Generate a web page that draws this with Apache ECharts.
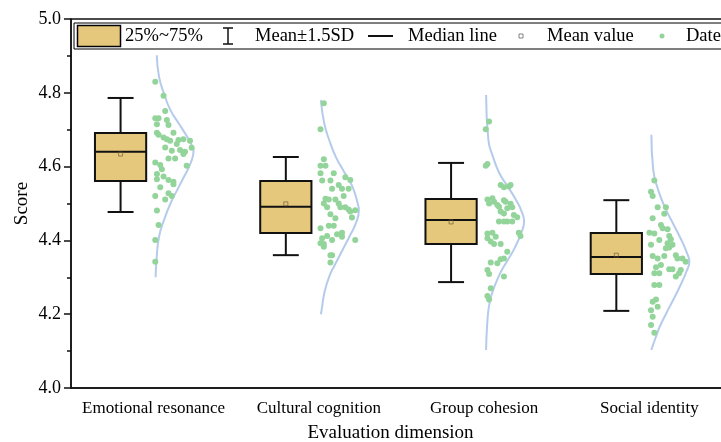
<!DOCTYPE html>
<html>
<head>
<meta charset="utf-8">
<title>Evaluation dimension</title>
<script src="https://cdn.jsdelivr.net/npm/echarts@6/dist/echarts.min.js"></script>
<style>
  html, body { margin: 0; padding: 0; background: #fff; }
  #main { width: 721px; height: 442px; }
</style>
</head>
<body>
<div id="main"></div>
<script>
// categories and box statistics
var categories = ['Emotional resonance', 'Cultural cognition', 'Group cohesion', 'Social identity']
var sdHigh = [4.786, 4.626, 4.610, 4.509]   // mean + 1.5SD
var q3 = [4.691, 4.561, 4.512, 4.420]
var median = [4.640, 4.491, 4.455, 4.355]
var q1 = [4.561, 4.420, 4.390, 4.309]
var sdLow = [4.477, 4.360, 4.287, 4.209]    // mean - 1.5SD
var mean = [4.634, 4.499, 4.450, 4.360]
var yTicks = [4.0, 4.2, 4.4, 4.6, 4.8, 5.0]

// raw points: [jitter (share of a category band), score]
var points1 = [[0.01, 4.830], [0.06, 4.792], [0.07, 4.751], [0.01, 4.731], [0.03, 4.731], [0.08, 4.726], [0.09, 4.713], [0.02, 4.715], [0.12, 4.692], [0.02, 4.692], [0.03, 4.686], [0.06, 4.679], [0.08, 4.674], [0.10, 4.670], [0.15, 4.672], [0.18, 4.674], [0.22, 4.670], [0.14, 4.661], [0.07, 4.652], [0.11, 4.643], [0.16, 4.645], [0.19, 4.640], [0.23, 4.651], [0.18, 4.634], [0.09, 4.622], [0.13, 4.622], [0.20, 4.602], [0.01, 4.611], [0.04, 4.604], [0.05, 4.593], [0.02, 4.580], [0.06, 4.573], [0.09, 4.564], [0.12, 4.559], [0.12, 4.552], [0.02, 4.566], [0.04, 4.544], [0.09, 4.528], [0.11, 4.520], [0.01, 4.520], [0.07, 4.511], [0.02, 4.481], [0.03, 4.442], [0.01, 4.401], [0.01, 4.342]]
var points2 = [[0.03, 4.772], [0.01, 4.701], [0.03, 4.620], [0.01, 4.602], [0.04, 4.602], [0.09, 4.582], [0.01, 4.582], [0.16, 4.571], [0.19, 4.564], [0.02, 4.562], [0.07, 4.562], [0.12, 4.550], [0.08, 4.540], [0.14, 4.540], [0.18, 4.540], [0.15, 4.520], [0.04, 4.513], [0.06, 4.511], [0.10, 4.511], [0.03, 4.500], [0.12, 4.500], [0.05, 4.490], [0.13, 4.490], [0.16, 4.490], [0.18, 4.484], [0.22, 4.482], [0.19, 4.478], [0.07, 4.471], [0.20, 4.462], [0.10, 4.460], [0.06, 4.440], [0.09, 4.440], [0.01, 4.433], [0.14, 4.421], [0.11, 4.417], [0.05, 4.412], [0.14, 4.410], [0.02, 4.406], [0.08, 4.401], [0.22, 4.401], [0.01, 4.392], [0.03, 4.390], [0.03, 4.383], [0.07, 4.360], [0.08, 4.360], [0.07, 4.340]]
var points3 = [[0.03, 4.722], [0.01, 4.701], [0.02, 4.607], [0.01, 4.602], [0.10, 4.550], [0.12, 4.544], [0.15, 4.546], [0.16, 4.550], [0.02, 4.511], [0.05, 4.514], [0.06, 4.505], [0.08, 4.496], [0.12, 4.509], [0.13, 4.505], [0.03, 4.500], [0.16, 4.499], [0.09, 4.491], [0.14, 4.487], [0.17, 4.490], [0.10, 4.478], [0.12, 4.473], [0.18, 4.469], [0.20, 4.463], [0.09, 4.451], [0.12, 4.451], [0.14, 4.451], [0.17, 4.451], [0.21, 4.421], [0.22, 4.412], [0.02, 4.419], [0.05, 4.421], [0.07, 4.410], [0.02, 4.406], [0.04, 4.397], [0.06, 4.390], [0.10, 4.390], [0.14, 4.369], [0.12, 4.351], [0.10, 4.349], [0.04, 4.340], [0.08, 4.338], [0.02, 4.320], [0.03, 4.309], [0.12, 4.302], [0.04, 4.270], [0.02, 4.249], [0.03, 4.240]]
var points4 = [[0.03, 4.562], [0.01, 4.532], [0.02, 4.520], [0.05, 4.490], [0.10, 4.490], [0.02, 4.460], [0.09, 4.472], [0.07, 4.442], [0.08, 4.433], [0.11, 4.430], [0.00, 4.421], [0.03, 4.419], [0.12, 4.412], [0.06, 4.401], [0.13, 4.403], [0.01, 4.388], [0.11, 4.392], [0.14, 4.388], [0.10, 4.379], [0.12, 4.381], [0.02, 4.358], [0.05, 4.351], [0.09, 4.358], [0.16, 4.360], [0.17, 4.351], [0.20, 4.351], [0.22, 4.342], [0.07, 4.333], [0.04, 4.327], [0.12, 4.322], [0.14, 4.322], [0.19, 4.320], [0.03, 4.311], [0.06, 4.311], [0.16, 4.302], [0.18, 4.311], [0.03, 4.279], [0.06, 4.279], [0.02, 4.234], [0.04, 4.240], [0.01, 4.211], [0.05, 4.220], [0.02, 4.193], [0.01, 4.171], [0.03, 4.150]]

// distribution curves: [score, relative density]
var curve1 = [[4.902, 0.03], [4.844, 0.09], [4.798, 0.22], [4.753, 0.39], [4.717, 0.61], [4.681, 0.83], [4.654, 0.97], [4.645, 1.00], [4.609, 0.92], [4.573, 0.75], [4.537, 0.57], [4.500, 0.39], [4.455, 0.22], [4.410, 0.09], [4.356, 0.03], [4.300, 0.00]]
var curve2 = [[4.780, 0.00], [4.717, 0.09], [4.672, 0.22], [4.627, 0.39], [4.586, 0.61], [4.546, 0.83], [4.500, 0.97], [4.482, 1.00], [4.446, 0.92], [4.410, 0.75], [4.374, 0.57], [4.338, 0.39], [4.302, 0.22], [4.257, 0.09], [4.211, 0.02], [4.200, 0.00]]
var curve3 = [[4.794, 0.00], [4.672, 0.06], [4.627, 0.18], [4.582, 0.35], [4.546, 0.57], [4.509, 0.79], [4.482, 0.92], [4.451, 1.00], [4.419, 0.92], [4.379, 0.75], [4.347, 0.57], [4.315, 0.39], [4.275, 0.22], [4.230, 0.09], [4.175, 0.03], [4.103, 0.00]]
var curve4 = [[4.686, 0.00], [4.591, 0.05], [4.537, 0.18], [4.491, 0.35], [4.446, 0.57], [4.401, 0.79], [4.365, 0.94], [4.342, 1.00], [4.315, 0.92], [4.275, 0.75], [4.238, 0.57], [4.202, 0.39], [4.166, 0.22], [4.130, 0.09], [4.103, 0.00]]

var allPoints = [points1, points2, points3, points4]
var allCurves = [curve1, curve2, curve3, curve4]

var boxColor = '#e6c87c'
var dotColor = '#93d49a'
var curveColor = '#b5cbec'
var font = '"Liberation Serif", "Times New Roman", serif'

// layout inside one category band
var boxShift = -0.2
var boxWidth = 0.31
var capWidth = 0.157
var curveBase = 0.012
var curveScale = 0.23

var chart = echarts.init(document.getElementById('main'))

var boxData = categories.map(function (c, i) {
  return [i + boxShift, sdLow[i], q1[i], median[i], q3[i], sdHigh[i]]
})

var dateData = []
allPoints.forEach(function (list, i) {
  list.forEach(function (p) {
    dateData.push([i + p[0], p[1]])
  })
})

var curveSeries = allCurves.map(function (list, i) {
  return {
    type: 'line',
    xAxisIndex: 1,
    smooth: true,
    showSymbol: false,
    silent: true,
    z: 1,
    lineStyle: { color: curveColor, width: 2 },
    data: list.map(function (p) { return [i + curveBase + p[1] * curveScale, p[0]] })
  }
})

function renderBox(params, api) {
  var x = api.value(0)
  var w = api.size([boxWidth, 0])[0]
  var top = api.coord([x, api.value(4)])
  var bottom = api.coord([x, api.value(2)])
  return {
    type: 'rect',
    shape: { x: top[0] - w / 2, y: top[1], width: w, height: bottom[1] - top[1] },
    style: { fill: boxColor, stroke: '#111', lineWidth: 2 }
  }
}

function renderWhisker(params, api) {
  var x = api.value(0)
  var cw = api.size([capWidth, 0])[0]
  var hi = api.coord([x, api.value(5)])
  var lo = api.coord([x, api.value(1)])
  var style = { stroke: '#111', lineWidth: 2 }
  return {
    type: 'group',
    children: [
      { type: 'line', shape: { x1: hi[0], y1: hi[1], x2: lo[0], y2: lo[1] }, style: style },
      { type: 'line', shape: { x1: hi[0] - cw / 2, y1: hi[1], x2: hi[0] + cw / 2, y2: hi[1] }, style: style },
      { type: 'line', shape: { x1: lo[0] - cw / 2, y1: lo[1], x2: lo[0] + cw / 2, y2: lo[1] }, style: style }
    ]
  }
}

function renderMedian(params, api) {
  var x = api.value(0)
  var w = api.size([boxWidth, 0])[0]
  var m = api.coord([x, api.value(3)])
  return {
    type: 'line',
    shape: { x1: m[0] - w / 2, y1: m[1], x2: m[0] + w / 2, y2: m[1] },
    style: { stroke: '#111', lineWidth: 2 }
  }
}

// hand drawn legend, as in the picture
var lx = 74, ly = 36
var legendFont = { fontFamily: font, fontSize: 18.5, fill: '#000', verticalAlign: 'middle' }
var legend = [
  { type: 'rect', shape: { x: lx, y: 23, width: 670, height: 26 }, style: { fill: '#fff', stroke: '#000', lineWidth: 1 } },
  { type: 'rect', shape: { x: 77.5, y: 25.5, width: 43, height: 21 }, style: { fill: boxColor, stroke: '#000', lineWidth: 1.5 } },
  { type: 'text', x: 125, y: ly, style: Object.assign({ text: '25%~75%' }, legendFont) },
  { type: 'line', shape: { x1: 228, y1: 28, x2: 228, y2: 44 }, style: { stroke: '#111', lineWidth: 1.5 } },
  { type: 'line', shape: { x1: 223, y1: 28, x2: 233, y2: 28 }, style: { stroke: '#111', lineWidth: 1.5 } },
  { type: 'line', shape: { x1: 223, y1: 44, x2: 233, y2: 44 }, style: { stroke: '#111', lineWidth: 1.5 } },
  { type: 'text', x: 255, y: ly, style: Object.assign({ text: 'Mean±1.5SD' }, legendFont) },
  { type: 'line', shape: { x1: 368, y1: ly, x2: 393, y2: ly }, style: { stroke: '#111', lineWidth: 2 } },
  { type: 'text', x: 408, y: ly, style: Object.assign({ text: 'Median line' }, legendFont) },
  { type: 'rect', shape: { x: 519, y: 34, width: 4, height: 4 }, style: { fill: '#fff', stroke: '#666', lineWidth: 0.8 } },
  { type: 'text', x: 547, y: ly, style: Object.assign({ text: 'Mean value' }, legendFont) },
  { type: 'circle', shape: { cx: 662, cy: ly, r: 2.5 }, style: { fill: dotColor } },
  { type: 'text', x: 686, y: ly, style: Object.assign({ text: 'Date' }, legendFont) }
]

chart.setOption({
  animation: false,
  backgroundColor: '#fff',
  textStyle: { fontFamily: font },
  graphic: { elements: [{ type: 'group', z: 100, children: legend }] },
  grid: {
    left: 71, right: -11, top: 19, bottom: 54,
    outerBoundsMode: 'none',
    show: true, borderColor: '#111', borderWidth: 1.5, backgroundColor: 'transparent'
  },
  xAxis: [
    {
      type: 'category',
      data: categories,
      name: 'Evaluation dimension',
      nameLocation: 'middle',
      nameGap: 36,
      nameTextStyle: { fontFamily: font, fontSize: 19, color: '#000', padding: [0, 22, 0, 0] },
      axisLine: { lineStyle: { color: '#111', width: 1.5 } },
      axisTick: { alignWithLabel: true, length: 6, lineStyle: { color: '#111', width: 1.5 } },
      axisLabel: { interval: 0, fontFamily: font, fontSize: 17, color: '#000', margin: 12 },
      splitLine: { show: false }
    },
    { type: 'value', min: -0.5, max: 3.5, show: false }
  ],
  yAxis: {
    type: 'value',
    min: yTicks[0],
    max: yTicks[yTicks.length - 1],
    interval: 0.2,
    name: 'Score',
    nameLocation: 'middle',
    nameGap: 49,
    nameMoveOverlap: false,
    nameTextStyle: { fontFamily: font, fontSize: 19, color: '#000', verticalAlign: 'middle' },
    axisLine: { show: true, onZero: false, lineStyle: { color: '#111', width: 1.5 } },
    axisTick: { show: true, length: 7, lineStyle: { color: '#111', width: 1.5 } },
    minorTick: { show: true, splitNumber: 2, length: 4, lineStyle: { color: '#111', width: 1.5 } },
    axisLabel: { fontFamily: font, fontSize: 18, color: '#000', margin: 10, formatter: function (v) { return v.toFixed(1) } },
    splitLine: { show: false }
  },
  series: curveSeries.concat([
    {
      name: 'Mean±1.5SD', type: 'custom', xAxisIndex: 1, z: 2,
      renderItem: renderWhisker, encode: { x: 0, y: [1, 2, 3, 4, 5] }, data: boxData
    },
    {
      name: '25%~75%', type: 'custom', xAxisIndex: 1, z: 3,
      renderItem: renderBox, encode: { x: 0, y: [1, 2, 3, 4, 5] }, data: boxData
    },
    {
      name: 'Median line', type: 'custom', xAxisIndex: 1, z: 4,
      renderItem: renderMedian, encode: { x: 0, y: [1, 2, 3, 4, 5] }, data: boxData
    },
    {
      name: 'Mean value', type: 'scatter', xAxisIndex: 1, z: 5,
      symbol: 'rect', symbolSize: 4,
      itemStyle: { color: 'rgba(0,0,0,0)', borderColor: '#665533', borderWidth: 0.8 },
      data: mean.map(function (m, i) { return [i + boxShift, m] })
    },
    {
      name: 'Date', type: 'scatter', xAxisIndex: 1, z: 6,
      symbolSize: 6,
      itemStyle: { color: dotColor, opacity: 1 },
      data: dateData
    }
  ])
})
</script>
</body>
</html>
